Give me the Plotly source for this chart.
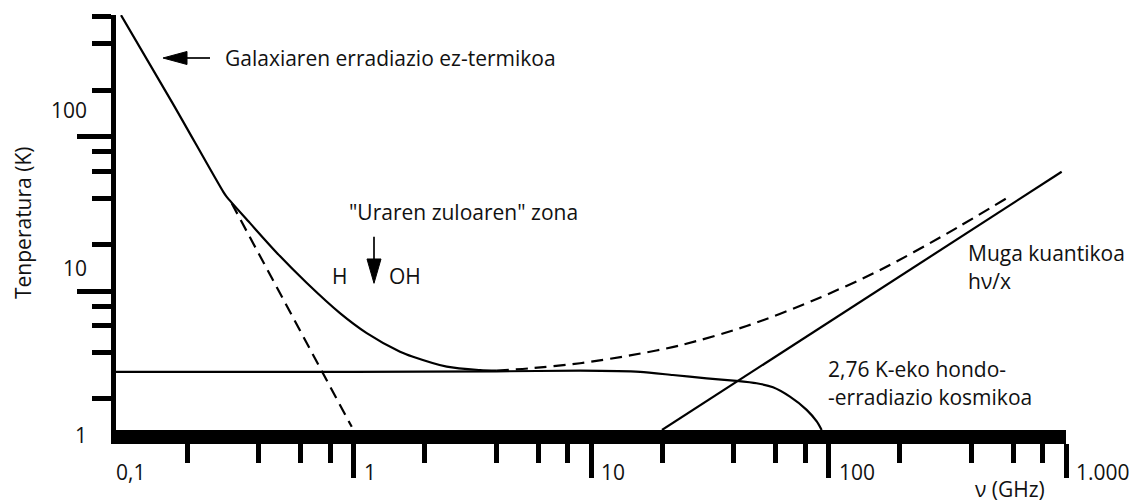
import numpy as np
import plotly.graph_objects as go

# ---------------- data ----------------
# Galaxy non-thermal emission + background (solid)
nu_galaxy_total = [0.105, 0.173, 0.283, 0.292, 0.366, 0.476, 0.636, 0.877, 1.137, 1.57, 1.78, 2.47, 3.41, 4.01]
T_galaxy_total = [615, 165.6, 44, 41, 27.7, 17.7, 11.3, 7.21, 5.35, 4.05, 3.76, 3.24, 3.08, 3.05]
# Galaxy power-law continuation (dashed)
nu_galaxy_ext = [0.307, 0.983]
T_galaxy_ext = [37.1, 1.32]
# 2.76 K cosmic background radiation (solid)
nu_cmb = [0.1, 1.0, 4.0, 9.0, 16.1, 22.1, 30.7, 41.0, 49.8, 58.4, 68.8, 80.9, 89.2, 93.6]
T_cmb = [3.0, 3.0, 3.02, 3.05, 3.0, 2.86, 2.72, 2.62, 2.53, 2.38, 2.07, 1.70, 1.43, 1.26]
# total including atmosphere (dashed)
nu_total_high = [4.01, 5.53, 9.0, 14.6, 23.7, 45.2, 86.1, 165, 315, 562]
T_total_high = [3.05, 3.16, 3.41, 3.83, 4.45, 5.94, 8.69, 13.7, 23.6, 40.0]
# quantum limit h nu / k (solid)
nu_quantum = [19.9, 959]
T_quantum = [1.26, 59.4]

# axis ticks / labels
x_major = [1, 10, 100, 1000]
x_minor = [0.2, 0.4, 0.6, 0.8, 2, 4, 6, 8, 20, 40, 60, 80, 200, 400, 600, 800]
x_label_vals = [0.1, 1, 10, 100, 1000]
x_label_text = ["0,1", "1", "10", "100", "1.000"]
y_major = [10, 100]
y_minor = [2, 4, 6, 8, 20, 40, 60, 80, 200, 400, 600]
y_label_text = ["1", "10", "100"]

# ---------------- layout geometry ----------------
W, H = 1129, 503
ML, MR, MT, MB = 116, 63, 15, 73
PW, PH = W - ML - MR, H - MT - MB
FONT = "Open Sans"
FS = 21
INK = "#111111"


def px(x):
    return (x - ML) / PW


def py(y):
    return (H - MB - y) / PH


fig = go.Figure()

line_solid = dict(color="black", width=2.2)
line_dash = dict(color="black", width=2.2, dash="12px,7px")

fig.add_trace(go.Scatter(x=nu_cmb, y=T_cmb, mode="lines", line=dict(line_solid, shape="spline", smoothing=0.6)))
fig.add_trace(go.Scatter(x=nu_galaxy_total, y=T_galaxy_total, mode="lines", line=dict(line_solid, shape="spline", smoothing=0.8)))
fig.add_trace(go.Scatter(x=nu_galaxy_ext, y=T_galaxy_ext, mode="lines", line=line_dash))
fig.add_trace(go.Scatter(x=nu_total_high, y=T_total_high, mode="lines", line=dict(line_dash, shape="spline", smoothing=0.8)))
fig.add_trace(go.Scatter(x=nu_quantum, y=T_quantum, mode="lines", line=line_solid))

annotations = []


def txt(x, y, s, xanchor="left", **kw):
    annotations.append(dict(x=px(x), y=py(y), xref="paper", yref="paper", text=s, showarrow=False,
                            xanchor=xanchor, yanchor="middle", font=dict(family=FONT, size=FS, color=INK), **kw))


# x tick labels (placed to the right of the ticks)
for v, s in zip(x_label_vals, x_label_text):
    annotations.append(dict(x=np.log10(v), y=py(471.5), xref="x", yref="paper", text=s, showarrow=False,
                            xanchor="left", yanchor="middle", xshift=(-2 if v == 0.1 else 8),
                            font=dict(family=FONT, size=FS, color=INK)))
# y tick labels
for ypix, s in zip([435, 268, 110], y_label_text):
    txt(89, ypix, s, xanchor="right")

txt(1047, 489, "ν (GHz)", xanchor="right")
txt(23, 223, "Tenperatura (K)", xanchor="center", textangle=-90)

txt(223, 58.3, "Galaxiaren erradiazio ez-termikoa")
txt(347, 211.7, '"Uraren zuloaren" zona')
txt(330, 276, "H")
txt(387, 276, "OH")
txt(966, 253, "Muga kuantikoa")
txt(966, 281, "hν/x")
txt(826, 369, "2,76 K-eko hondo-")
txt(826, 397, "-erradiazio kosmikoa")

shapes = []


def seg(x0, y0, x1, y1, w=1.7):
    shapes.append(dict(type="line", xref="paper", yref="paper", x0=px(x0), y0=py(y0), x1=px(x1), y1=py(y1),
                       line=dict(color="black", width=w)))


def tri(pts):
    d = "M " + " L ".join(f"{px(a):.5f},{py(b):.5f}" for a, b in pts) + " Z"
    shapes.append(dict(type="path", xref="paper", yref="paper", path=d, fillcolor="black",
                       line=dict(color="black", width=1)))


# arrow to the galaxy curve
seg(184, 58, 210, 58)
tri([(163, 58), (187, 51.5), (187, 64.5)])
# down arrow for the water hole
seg(374, 236.7, 374, 262)
tri([(374, 283.3), (367, 259), (381, 259)])

fig.update_layout(
    width=W, height=H,
    margin=dict(l=ML, r=MR, t=MT, b=MB, autoexpand=False),
    paper_bgcolor="white", plot_bgcolor="white",
    showlegend=False,
    font=dict(family=FONT, size=FS, color=INK),
    annotations=annotations,
    shapes=shapes,
    xaxis=dict(type="log", range=[-1, 3], showline=True, linewidth=14, linecolor="black",
               ticks="outside", tickvals=x_major, ticklen=34, tickwidth=5, tickcolor="black",
               showticklabels=False, showgrid=False, zeroline=False, automargin=False,
               minor=dict(tickvals=x_minor, ticks="outside", ticklen=19, tickwidth=5, tickcolor="black",
                          showgrid=False)),
    yaxis=dict(type="log", range=[0.1, 2.79], showline=True, linewidth=5, linecolor="black",
               ticks="outside", tickvals=y_major, ticklen=34, tickwidth=5, tickcolor="black",
               showticklabels=False, showgrid=False, zeroline=False, automargin=False,
               minor=dict(tickvals=y_minor, ticks="outside", ticklen=19, tickwidth=5, tickcolor="black",
                          showgrid=False)),
)
for tr in fig.data:
    tr.update(hoverinfo="skip", cliponaxis=True)

fig.write_html("out.html", config={"displayModeBar": False, "staticPlot": True},
               post_script="document.body.style.margin='0px';")
